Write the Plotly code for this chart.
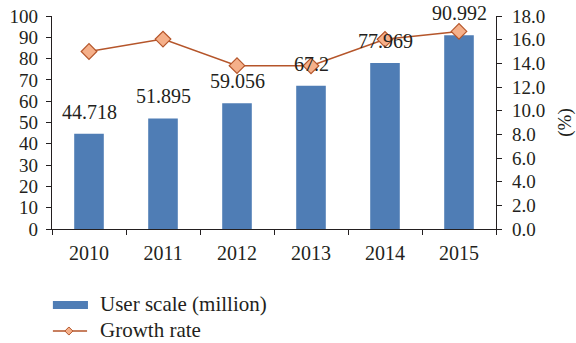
import plotly.graph_objects as go

years = ["2010", "2011", "2012", "2013", "2014", "2015"]
user_scale = [44.718, 51.895, 59.056, 67.2, 77.969, 90.992]
growth_rate = [15.0, 16.05, 13.8, 13.79, 16.03, 16.7]
left_ticks = [0, 10, 20, 30, 40, 50, 60, 70, 80, 90, 100]
right_ticks = [0, 2, 4, 6, 8, 10, 12, 14, 16, 18]

FONT = "Liberation Serif"
BAR_COLOR = "#4F7DB5"
LINE_COLOR = "#B5552A"
MARKER_FILL = "#F5B08A"
TXT = "#231F20"

fig = go.Figure()
fig.add_trace(go.Bar(
    x=years, y=user_scale, name="User scale (million)",
    marker=dict(color=BAR_COLOR, line=dict(width=0)), width=0.4,
    showlegend=False,
))
fig.add_trace(go.Scatter(
    x=years, y=growth_rate, name="Growth rate", yaxis="y2",
    mode="lines+markers",
    line=dict(color=LINE_COLOR, width=1.5),
    marker=dict(symbol="diamond", size=12, color=MARKER_FILL,
                line=dict(color=LINE_COLOR, width=1.2)),
    showlegend=False,
))

# value labels above each bar (category index positions)
for i, v in enumerate(user_scale):
    fig.add_annotation(x=i, y=v, xref="x", yref="y", text=f"{v:g}",
                       showarrow=False, yshift=22,
                       font=dict(family=FONT, size=20, color=TXT))

# legend drawn below the plot
fig.add_shape(type="rect", xref="paper", yref="paper",
              x0=0.002, x1=0.081, y0=-0.376, y1=-0.338,
              fillcolor=BAR_COLOR, line=dict(width=0))
fig.add_annotation(xref="paper", yref="paper", x=0.104, y=-0.350,
                   yanchor="middle", xanchor="left",
                   text="User scale (million)", showarrow=False,
                   font=dict(family=FONT, size=21, color=TXT))
fig.add_shape(type="line", xref="paper", yref="paper",
              x0=0.002, x1=0.079, y0=-0.479, y1=-0.479,
              line=dict(color=LINE_COLOR, width=1.5))
fig.add_shape(type="path", xref="paper", yref="paper",
              path="M 0.038 -0.460 L 0.047 -0.479 L 0.038 -0.498 L 0.029 -0.479 Z",
              fillcolor=MARKER_FILL, line=dict(color=LINE_COLOR, width=1))
fig.add_annotation(xref="paper", yref="paper", x=0.104, y=-0.472,
                   yanchor="middle", xanchor="left",
                   text="Growth rate", showarrow=False,
                   font=dict(family=FONT, size=21, color=TXT))

fig.update_layout(
    width=576, height=343,
    margin=dict(l=52, r=80, t=16, b=114),
    paper_bgcolor="white", plot_bgcolor="white",
    font=dict(family=FONT, size=18, color=TXT),
    xaxis=dict(type="category", range=[-0.5, 5.5], showline=True,
               linecolor="#231F20", linewidth=1.2, automargin=False,
               ticks="outside", tickson="boundaries", ticklen=5,
               tickcolor="#231F20", showgrid=False, tickangle=0,
               ticklabelstandoff=6,
               tickfont=dict(family=FONT, size=20, color=TXT)),
    yaxis=dict(range=[0, 100], tickvals=left_ticks, showline=True,
               linecolor="#231F20", linewidth=1.2, ticks="outside", ticklen=5,
               tickcolor="#231F20", showgrid=False, zeroline=False,
               ticklabelstandoff=4, automargin=False,
               tickfont=dict(family=FONT, size=19, color=TXT)),
    yaxis2=dict(range=[0, 18], tickvals=right_ticks,
                ticktext=[f"{t:.1f}" for t in right_ticks],
                overlaying="y", side="right", showline=True,
                linecolor="#231F20", linewidth=1.2, ticks="outside", ticklen=5,
                tickcolor="#231F20", showgrid=False, zeroline=False,
                ticklabelstandoff=6, automargin=False,
                tickfont=dict(family=FONT, size=19, color=TXT),
                title=dict(text="(%)", standoff=28,
                           font=dict(family=FONT, size=19, color=TXT))),
)

fig.write_html("out.html")
